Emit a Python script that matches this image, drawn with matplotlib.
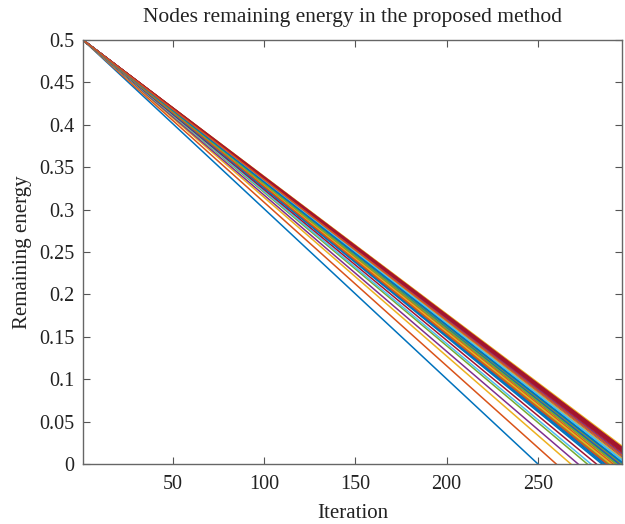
import matplotlib.pyplot as plt
import numpy as np

plt.rcParams['font.family'] = ['Liberation Serif', 'DejaVu Serif']

# Every node starts with the same energy and drains linearly until it is dead.
initial_energy = 0.5
start_iteration = 1

# Iteration at which each node's energy reaches zero (node order = colour order)
depletion_iteration = [
    250, 260, 268, 272, 277, 279, 282,
    295, 299, 289, 302, 293, 297, 306,
    286, 300, 296, 291, 303, 298, 307,
    293, 288, 302, 297, 301, 292, 304,
    298, 294, 306, 288, 299, 302, 308,
    290, 297, 295, 304, 293, 300, 305,
    287, 301, 297, 302, 296, 291, 306,
    302, 293, 309, 298, 289, 303, 304,
    296, 299, 292, 305, 301, 294, 307,
    285, 303, 297, 293, 300, 297, 306,
    299, 291, 302, 295, 302, 298, 308,
    294, 305, 290, 301, 296, 302, 306,
    297, 288, 300, 303, 293, 299, 305,
    297, 302,
]

x_ticks = [50, 100, 150, 200, 250]
y_ticks = [0, 0.05, 0.1, 0.15, 0.2, 0.25, 0.3, 0.35, 0.4, 0.45, 0.5]
y_tick_labels = ['0', '0.05', '0.1', '0.15', '0.2', '0.25', '0.3', '0.35', '0.4', '0.45', '0.5']

# MATLAB default line colour order
matlab_colors = ['#0072BD', '#D95319', '#EDB120', '#7E2F8E',
                 '#77AC30', '#4DBEEE', '#A2142F']

fig = plt.figure(figsize=(6.25, 5.24), dpi=100)
ax = fig.add_axes([0.1328, 0.1145, 0.8624, 0.8091])

for i, t_end in enumerate(depletion_iteration):
    ax.plot([start_iteration, t_end], [initial_energy, 0.0],
            color=matlab_colors[i % len(matlab_colors)], linewidth=1.1)

ax.set_xlim(1, 296)
ax.set_ylim(0, 0.5)
ax.set_xticks(x_ticks)
ax.set_yticks(y_ticks)
ax.set_yticklabels(y_tick_labels)

ax.tick_params(direction='in', length=5, width=0.8, colors='#555555',
               labelcolor='#222222', labelsize=14.5,
               top=True, right=True)
ax.tick_params(axis='x', pad=8)
ax.tick_params(axis='y', pad=6)
for spine in ax.spines.values():
    spine.set_color('#666666')
    spine.set_linewidth(1.0)

ax.set_title('Nodes remaining energy in the proposed method', fontsize=15.5,
             color='#222222', pad=13)
ax.set_xlabel('Iteration', fontsize=15, color='#222222', labelpad=7)
ax.set_ylabel('Remaining energy', fontsize=15, color='#222222', labelpad=5)

fig.savefig('out.png', dpi=100)
